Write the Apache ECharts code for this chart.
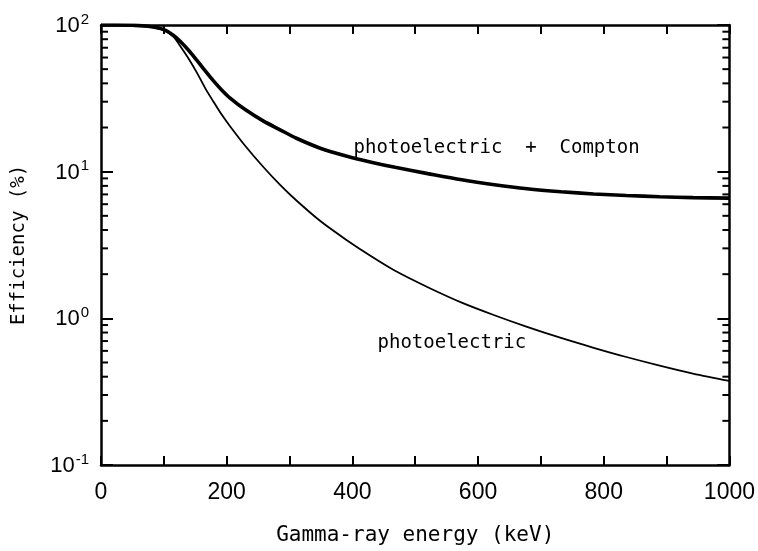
<!DOCTYPE html>
<html>
<head>
<meta charset="utf-8">
<script src="https://cdn.jsdelivr.net/npm/echarts@6/dist/echarts.min.js"></script>
<style>html,body{margin:0;padding:0;background:#fff}#c{width:758px;height:551px}</style>
</head>
<body>
<div id="c"></div>
<script>
// Energies (keV)
const energy = [0, 25, 50, 75, 100, 115, 126, 140, 153, 166, 179, 192, 205, 230, 258, 285, 311, 350, 390, 430, 468, 520, 574, 626, 678, 732, 784, 836, 889, 942, 1000];
// photoelectric + Compton efficiency (%)
const total = [100, 100, 99.5, 98, 93, 85.2, 77.4, 66.7, 57.1, 48.6, 41.6, 36.1, 31.9, 26.4, 22.2, 19.3, 16.9, 14.4, 12.8, 11.6, 10.7, 9.7, 8.8, 8.15, 7.65, 7.3, 7.05, 6.88, 6.75, 6.65, 6.6];
// photoelectric efficiency (%)
const photo = [100, 100, 99.5, 98, 92, 83.5, 72, 58.5, 47, 37, 30, 24.5, 20.5, 14.9, 10.8, 8.13, 6.36, 4.57, 3.44, 2.65, 2.11, 1.63, 1.28, 1.05, 0.875, 0.735, 0.63, 0.545, 0.476, 0.42, 0.374];
// minor tick values on log axis
const minorTicks = [];
[0.1, 1, 10].forEach(d => { for (let k = 2; k <= 9; k++) minorTicks.push(+(d * k).toPrecision(3)); });
const xTickLabels = ['0', '200', '400', '600', '800', '1000'];

const chart = echarts.init(document.getElementById('c'), null, {renderer: 'canvas'});
const axisLineStyle = {color: '#000', width: 2.5};
const sansFont = '"Liberation Sans", Arial, sans-serif';
const monoFont = '"DejaVu Sans Mono", monospace';

chart.setOption({
  animation: false,
  backgroundColor: '#fff',
  grid: {left: 101, right: 21, top: 25, bottom: 86, containLabel: false},
  xAxis: [{
    type: 'value', min: 0, max: 1000, interval: 200, position: 'bottom',
    axisLine: {show: true, onZero: false, lineStyle: axisLineStyle},
    axisTick: {show: true, inside: true, length: 9, lineStyle: {color: '#000', width: 2}},
    minorTick: {show: true, splitNumber: 2, length: 9, lineStyle: {color: '#000', width: 2}},
    splitLine: {show: false},
    axisLabel: {color: '#000', fontSize: 23, fontFamily: sansFont, margin: 16,
      formatter: v => xTickLabels[Math.round(v / 200)]},
    name: 'Gamma-ray energy (keV)', nameLocation: 'middle', nameGap: 60,
    nameTextStyle: {color: '#000', fontSize: 21, fontFamily: monoFont}
  }, {
    type: 'value', min: 0, max: 1000, interval: 200, position: 'top',
    axisLine: {show: true, onZero: false, lineStyle: axisLineStyle},
    axisTick: {show: true, inside: true, length: 9, lineStyle: {color: '#000', width: 2}},
    minorTick: {show: true, splitNumber: 2, length: 9, lineStyle: {color: '#000', width: 2}},
    splitLine: {show: false}, axisLabel: {show: false}
  }],
  yAxis: [{
    type: 'log', logBase: 10, min: 0.1, max: 100, position: 'left',
    axisLine: {show: true, onZero: false, lineStyle: axisLineStyle},
    axisTick: {show: true, inside: true, length: 12, lineStyle: {color: '#000', width: 2}},
    splitLine: {show: false},
    axisLabel: {color: '#000', margin: 12,
      formatter: v => '{b|10}{s|' + Math.round(Math.log10(v)) + '}',
      rich: {
        b: {fontSize: 22, fontFamily: sansFont, color: '#000', verticalAlign: 'bottom', lineHeight: 24},
        s: {fontSize: 15, fontFamily: sansFont, color: '#000', verticalAlign: 'bottom', lineHeight: 24, padding: [0, 0, 10, 1]}
      }},
    name: 'Efficiency (%)', nameLocation: 'middle', nameGap: 72,
    nameTextStyle: {color: '#000', fontSize: 19, fontFamily: monoFont}
  }, {
    type: 'log', logBase: 10, min: 0.1, max: 100, position: 'right',
    axisLine: {show: true, onZero: false, lineStyle: axisLineStyle},
    axisTick: {show: true, inside: true, length: 12, lineStyle: {color: '#000', width: 2}},
    splitLine: {show: false}, axisLabel: {show: false}
  }],
  series: [{
    name: 'photoelectric + Compton', type: 'line', xAxisIndex: 0, yAxisIndex: 0,
    data: energy.map((e, i) => [e, total[i]]),
    smooth: 0.3, symbol: 'none',
    lineStyle: {color: '#000', width: 3.6},
    markPoint: {
      symbol: 'rect', symbolSize: 0,
      data: [{coord: [402, 14.5], label: {show: true, position: 'right', distance: 0,
        formatter: 'photoelectric  +  Compton', color: '#000', fontSize: 19, fontFamily: monoFont}}]
    }
  }, {
    name: 'photoelectric', type: 'line', xAxisIndex: 0, yAxisIndex: 0,
    data: energy.map((e, i) => [e, photo[i]]),
    smooth: 0.3, symbol: 'none',
    lineStyle: {color: '#000', width: 1.8},
    markPoint: {
      symbol: 'rect', symbolSize: 0,
      data: [{coord: [440, 0.68], label: {show: true, position: 'right', distance: 0,
        formatter: 'photoelectric', color: '#000', fontSize: 19, fontFamily: monoFont}}]
    }
  }, {
    type: 'custom', xAxisIndex: 0, yAxisIndex: 0, silent: true, clip: false,
    data: minorTicks.map(v => [0, v]),
    renderItem: (params, api) => {
      const v = api.value(1);
      const pl = api.coord([0, v]);
      const pr = api.coord([1000, v]);
      const st = {stroke: '#000', lineWidth: 2};
      return {type: 'group', children: [
        {type: 'line', shape: {x1: pl[0], y1: pl[1], x2: pl[0] + 7, y2: pl[1]}, style: st},
        {type: 'line', shape: {x1: pr[0], y1: pr[1], x2: pr[0] - 7, y2: pr[1]}, style: st}
      ]};
    }
  }]
});
</script>
</body>
</html>
